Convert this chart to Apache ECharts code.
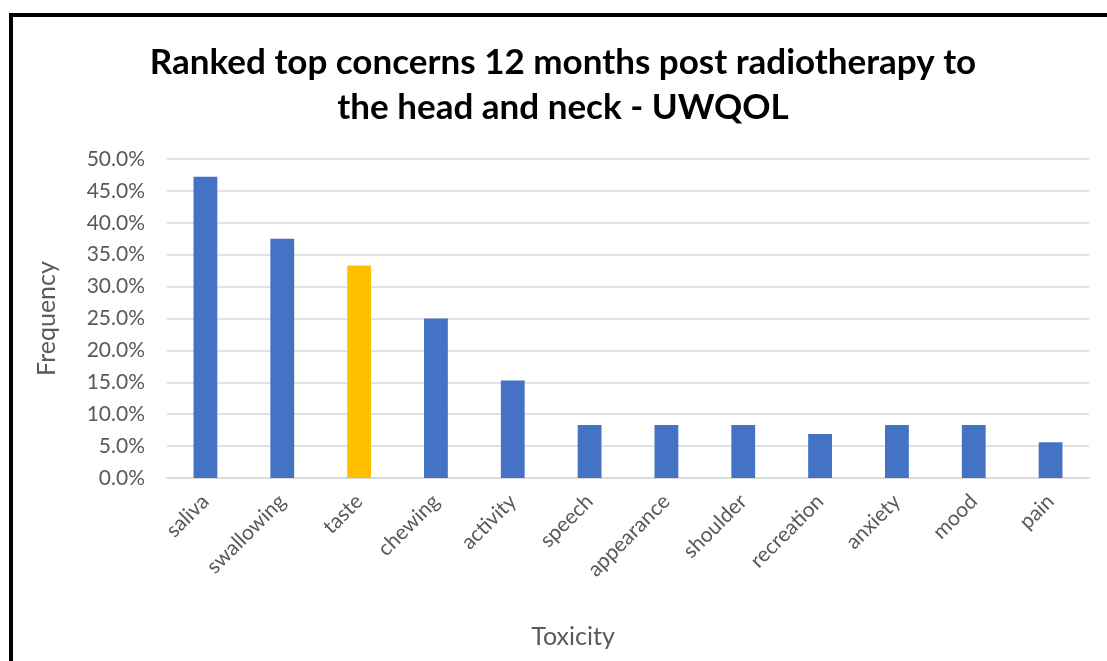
<!DOCTYPE html>
<html>
<head>
<meta charset="utf-8">
<script src="https://cdn.jsdelivr.net/npm/echarts@6/dist/echarts.min.js"></script>
<style>
  html, body { margin: 0; padding: 0; background: #fff; overflow: hidden; }
  #chart { position: absolute; left: 0; top: 0; width: 1107px; height: 661px; }
  .frame {
    position: absolute; left: 9px; top: 13px;
    width: 1300px; height: 1000px;
    border: 4px solid #000; pointer-events: none;
  }
</style>
</head>
<body>
<div id="chart"></div>
<div class="frame"></div>
<script>
// categories and frequencies (share of patients)
const concerns = ['saliva', 'swallowing', 'taste', 'chewing', 'activity', 'speech',
  'appearance', 'shoulder', 'recreation', 'anxiety', 'mood', 'pain']
const frequency = [0.472, 0.375, 0.333, 0.25, 0.153, 0.083, 0.083, 0.083, 0.069, 0.083, 0.083, 0.056]
const highlighted = 'taste'
const yTicks = { min: 0, max: 0.5, step: 0.05 }

const chart = echarts.init(document.getElementById('chart'))

const option = {
  animation: false,
  title: {
    text: 'Ranked top concerns 12 months post radiotherapy to\nthe head and neck - UWQOL',
    left: 558,
    top: 35,
    textAlign: 'center',
    textStyle: {
      fontFamily: 'Lato',
      fontWeight: 'bold',
      fontSize: 35,
      lineHeight: 45,
      color: '#000'
    }
  },
  grid: {
    left: 167,
    right: 18,
    top: 159,
    bottom: 183
  },
  xAxis: {
    type: 'category',
    data: concerns,
    name: 'Toxicity',
    nameLocation: 'middle',
    nameGap: 146,
    nameTextStyle: {
      fontFamily: 'Lato', fontSize: 25, color: '#595959',
      // Excel centres the axis title on the chart, not the plot
      padding: [0, 110, 0, 0]
    },
    axisLine: { lineStyle: { color: '#d9d9d9', width: 1.5 } },
    axisTick: { show: false },
    axisLabel: {
      rotate: 45,
      margin: 20,
      interval: 0,
      fontFamily: 'Lato',
      fontSize: 21,
      color: '#595959'
    }
  },
  yAxis: {
    type: 'value',
    min: yTicks.min,
    max: yTicks.max,
    interval: yTicks.step,
    name: 'Frequency',
    nameLocation: 'middle',
    nameGap: 108,
    nameTextStyle: { fontFamily: 'Lato', fontSize: 25, color: '#595959' },
    axisLine: { show: false },
    axisTick: { show: false },
    axisLabel: {
      margin: 22,
      fontFamily: 'Lato',
      fontSize: 21,
      color: '#595959',
      formatter: v => (v * 100).toFixed(1) + '%'
    },
    splitLine: { lineStyle: { color: '#d9d9d9', width: 1.5 } }
  },
  series: [{
    type: 'bar',
    barWidth: '31%',
    data: frequency.map((v, i) => ({
      value: v,
      itemStyle: { color: concerns[i] === highlighted ? '#FFC000' : '#4472C4' }
    }))
  }]
}

chart.setOption(option)
</script>
</body>
</html>
